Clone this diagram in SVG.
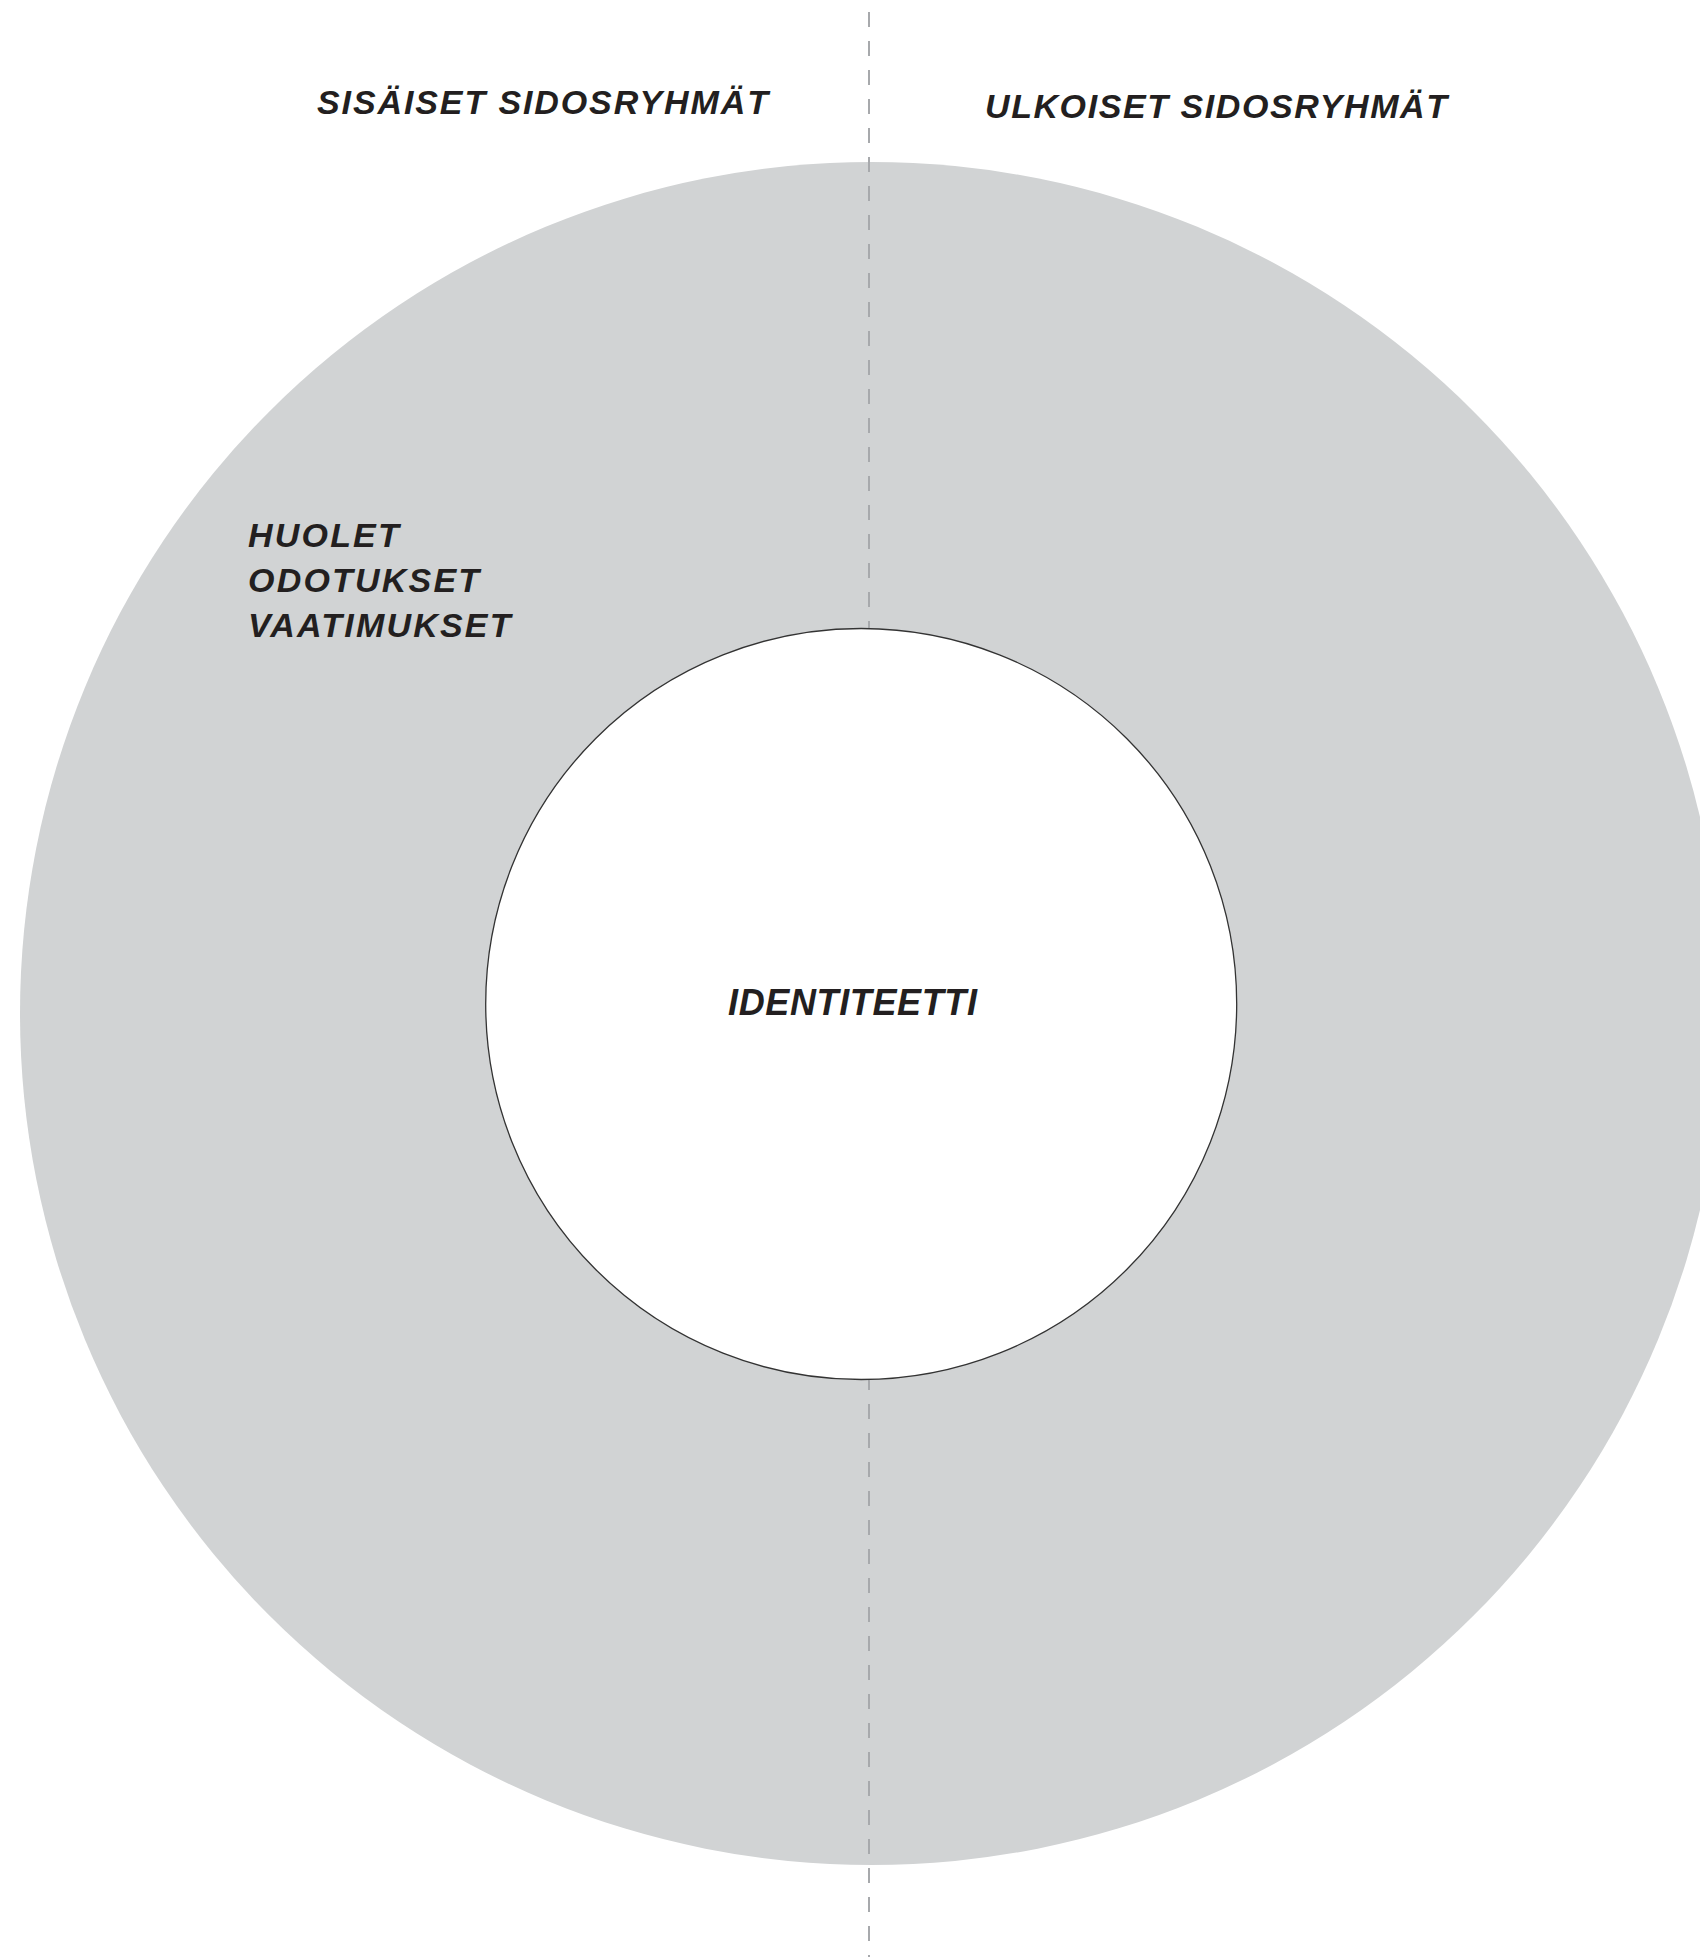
<svg xmlns="http://www.w3.org/2000/svg" width="1700" height="1957" viewBox="0 0 1700 1957">
  <style>
    .lbl { font-family: "Liberation Sans", Arial, sans-serif; font-weight: bold; font-style: italic; fill: #231f20; }
    .hdr { font-size: 34px; }
    .side { font-size: 34px; letter-spacing: 2.2px; }
    .core { font-size: 36px; }
    .divider { stroke: #a7a9ac; stroke-width: 2; stroke-dasharray: 15 14; fill: none; }
  </style>
  <rect x="0" y="0" width="1700" height="1957" fill="#ffffff"/>
  <g id="stakeholder-ring">
    <circle cx="871.5" cy="1013.5" r="851.5" fill="#d1d3d4"/>
    <text class="lbl side" x="248" y="547">HUOLET</text>
    <text class="lbl side" x="248" y="592">ODOTUKSET</text>
    <text class="lbl side" x="248" y="637">VAATIMUKSET</text>
  </g>
  <g id="connectors">
    <line class="divider" x1="869" y1="12" x2="869" y2="1957"/>
  </g>
  <g id="identity">
    <circle cx="861.2" cy="1004" r="375.5" fill="#ffffff" stroke="#333333" stroke-width="1.3"/>
    <text class="lbl core" x="728" y="1015" textLength="249" lengthAdjust="spacing">IDENTITEETTI</text>
  </g>
  <g id="internal-header">
    <text class="lbl hdr" x="317" y="114" textLength="451" lengthAdjust="spacing">SISÄISET SIDOSRYHMÄT</text>
  </g>
  <g id="external-header">
    <text class="lbl hdr" x="985" y="118" textLength="462" lengthAdjust="spacing">ULKOISET SIDOSRYHMÄT</text>
  </g>
</svg>
